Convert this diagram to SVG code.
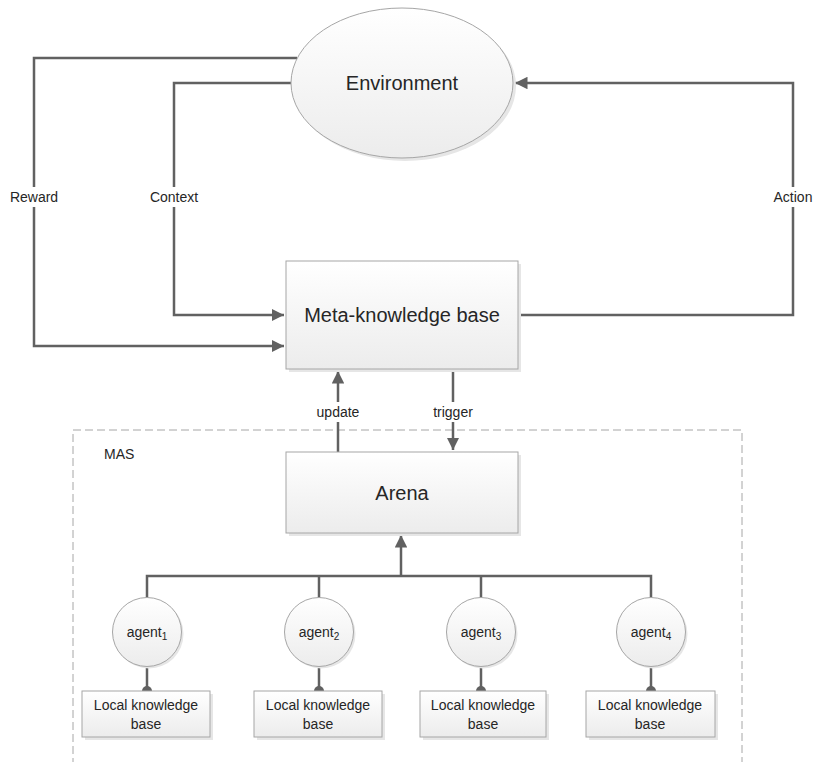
<svg xmlns="http://www.w3.org/2000/svg" width="813" height="762" viewBox="0 0 813 762">
<style>
text{font-family:"Liberation Sans",Arial,sans-serif;fill:#262626}
.big{font-size:20px}
.sm{font-size:14px}
.node{fill:url(#g);stroke:#a6a6a6;stroke-width:1}
.sh{fill:#e6e6e6}
.c{fill:none;stroke:#616161;stroke-width:2.5}
.lbl{fill:#fff}
</style>
<defs>
<linearGradient id="g" x1="0" y1="0" x2="0" y2="1">
<stop offset="0" stop-color="#ffffff"/>
<stop offset="1" stop-color="#ececec"/>
</linearGradient>
<marker id="a" viewBox="0 0 10 10" refX="10" refY="5" markerWidth="5" markerHeight="5" orient="auto" markerUnits="strokeWidth">
<path d="M0,0 L10,5 L0,10 z" fill="#616161"/>
</marker>
<marker id="d" viewBox="0 0 10 10" refX="5" refY="5" markerWidth="4" markerHeight="4" orient="auto" markerUnits="strokeWidth">
<circle cx="5" cy="5" r="5" fill="#616161"/>
</marker>
</defs>
<rect x="73" y="430" width="669" height="345" fill="none" stroke="#a6a6a6" stroke-dasharray="8,4"/>
<text class="sm" x="104" y="459">MAS</text>
<g id="connectors">
<path class="c" d="M297,58 H34 V346 H284" marker-end="url(#a)"/>
<path class="c" d="M291,83 H174 V315 H284" marker-end="url(#a)"/>
<path class="c" d="M518,315 H793 V83 H515" marker-end="url(#a)"/>
<path class="c" d="M338,452 V371" marker-end="url(#a)"/>
<path class="c" d="M453,369 V450" marker-end="url(#a)"/>
<path class="c" d="M401,576 V535" marker-end="url(#a)"/>
<path class="c" d="M147,598 V576 H651 V598"/>
<path class="c" d="M319,598 V576"/>
<path class="c" d="M481,598 V576"/>
<path class="c" d="M147,667 V691" marker-end="url(#d)"/>
<path class="c" d="M319,667 V691" marker-end="url(#d)"/>
<path class="c" d="M481,667 V691" marker-end="url(#d)"/>
<path class="c" d="M651,667 V691" marker-end="url(#d)"/>
<rect class="lbl" x="8" y="187" width="54" height="20"/>
<text class="sm" x="34" y="202" text-anchor="middle">Reward</text>
<rect class="lbl" x="146" y="187" width="56" height="20"/>
<text class="sm" x="174" y="202" text-anchor="middle">Context</text>
<rect class="lbl" x="771" y="187" width="44" height="20"/>
<text class="sm" x="793" y="202" text-anchor="middle">Action</text>
<rect class="lbl" x="313" y="402" width="50" height="20"/>
<text class="sm" x="338" y="417" text-anchor="middle">update</text>
<rect class="lbl" x="429" y="402" width="48" height="20"/>
<text class="sm" x="453" y="417" text-anchor="middle">trigger</text>
</g>
<g id="environment">
<ellipse class="sh" cx="405" cy="86" rx="111" ry="75"/>
<ellipse class="node" cx="402" cy="83" rx="111" ry="75"/>
<text class="big" x="402" y="90" text-anchor="middle">Environment</text>
</g>
<g id="meta">
<rect class="sh" x="289" y="264" width="232" height="108"/>
<rect class="node" x="286" y="261" width="232" height="108"/>
<text class="big" x="402" y="322" text-anchor="middle">Meta-knowledge base</text>
</g>
<g id="arena">
<rect class="sh" x="289" y="455" width="232" height="81"/>
<rect class="node" x="286" y="452" width="232" height="81"/>
<text class="big" x="402" y="500" text-anchor="middle">Arena</text>
</g>
<g id="agent1">
<circle class="sh" cx="149" cy="634" r="34.5"/>
<circle class="node" cx="147" cy="632" r="34.5"/>
<text class="sm" x="147" y="637" text-anchor="middle">agent<tspan font-size="10" dy="3">1</tspan></text>
</g>
<g id="agent2">
<circle class="sh" cx="321" cy="634" r="34.5"/>
<circle class="node" cx="319" cy="632" r="34.5"/>
<text class="sm" x="319" y="637" text-anchor="middle">agent<tspan font-size="10" dy="3">2</tspan></text>
</g>
<g id="agent3">
<circle class="sh" cx="483" cy="634" r="34.5"/>
<circle class="node" cx="481" cy="632" r="34.5"/>
<text class="sm" x="481" y="637" text-anchor="middle">agent<tspan font-size="10" dy="3">3</tspan></text>
</g>
<g id="agent4">
<circle class="sh" cx="653" cy="634" r="34.5"/>
<circle class="node" cx="651" cy="632" r="34.5"/>
<text class="sm" x="651" y="637" text-anchor="middle">agent<tspan font-size="10" dy="3">4</tspan></text>
</g>
<g id="lkb1">
<rect class="sh" x="85" y="694" width="128" height="46"/>
<rect class="node" x="82" y="691" width="128" height="46"/>
<text class="sm" x="146" y="710" text-anchor="middle">Local knowledge</text>
<text class="sm" x="146" y="729" text-anchor="middle">base</text>
</g>
<g id="lkb2">
<rect class="sh" x="257" y="694" width="128" height="46"/>
<rect class="node" x="254" y="691" width="128" height="46"/>
<text class="sm" x="318" y="710" text-anchor="middle">Local knowledge</text>
<text class="sm" x="318" y="729" text-anchor="middle">base</text>
</g>
<g id="lkb3">
<rect class="sh" x="423" y="694" width="126" height="46"/>
<rect class="node" x="420" y="691" width="126" height="46"/>
<text class="sm" x="483" y="710" text-anchor="middle">Local knowledge</text>
<text class="sm" x="483" y="729" text-anchor="middle">base</text>
</g>
<g id="lkb4">
<rect class="sh" x="589" y="694" width="129" height="46"/>
<rect class="node" x="586" y="691" width="129" height="46"/>
<text class="sm" x="650" y="710" text-anchor="middle">Local knowledge</text>
<text class="sm" x="650" y="729" text-anchor="middle">base</text>
</g>
</svg>
